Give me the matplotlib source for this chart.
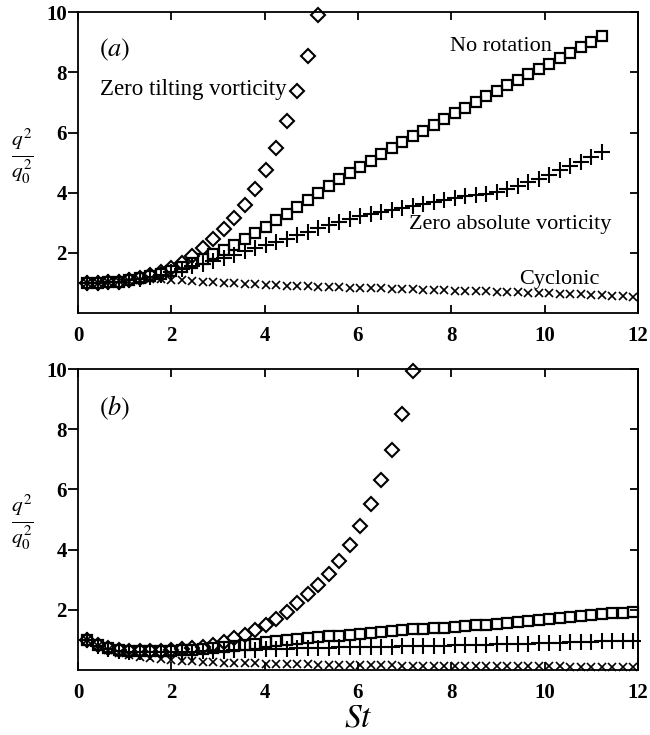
import matplotlib
matplotlib.use("Agg")
import matplotlib.pyplot as plt

plt.rcParams['font.family'] = ['Liberation Serif', 'DejaVu Serif']
plt.rcParams['mathtext.fontset'] = 'stix'

# common time grid St (sampling of the integration output)
st = [0.2, 0.425, 0.65, 0.875, 1.1, 1.325, 1.55, 1.775, 2.0, 2.225, 2.45, 2.675,
      2.9, 3.125, 3.35, 3.575, 3.8, 4.025, 4.25, 4.475, 4.7, 4.925, 5.15, 5.375,
      5.6, 5.825, 6.05, 6.275, 6.5, 6.725, 6.95, 7.175, 7.4, 7.625, 7.85, 8.075,
      8.3, 8.525, 8.75, 8.975, 9.2, 9.425, 9.65, 9.875, 10.1, 10.325, 10.55,
      10.775, 11.0, 11.225, 11.45, 11.675, 11.9]

# panel (a)
tilt_a = [1.0, 1.0, 1.02, 1.05, 1.1, 1.17, 1.25, 1.36, 1.5, 1.68, 1.9, 2.15,
          2.45, 2.78, 3.15, 3.58, 4.12, 4.75, 5.5, 6.37, 7.39, 8.55, 9.92]
norot_a = [1.0, 1.0, 1.02, 1.05, 1.1, 1.15, 1.22, 1.3, 1.4, 1.52, 1.65, 1.8,
           1.95, 2.1, 2.27, 2.45, 2.65, 2.86, 3.08, 3.3, 3.53, 3.76, 4.0, 4.22,
           4.44, 4.65, 4.86, 5.06, 5.27, 5.47, 5.67, 5.87, 6.06, 6.26, 6.45,
           6.64, 6.83, 7.02, 7.2, 7.39, 7.57, 7.75, 7.93, 8.11, 8.29, 8.47,
           8.65, 8.83, 9.01, 9.2]
zabs_a = [1.0, 1.0, 1.02, 1.05, 1.09, 1.14, 1.2, 1.27, 1.36, 1.46, 1.56, 1.64,
          1.72, 1.83, 1.93, 2.05, 2.17, 2.27, 2.37, 2.47, 2.58, 2.7, 2.82, 2.93,
          3.04, 3.13, 3.21, 3.29, 3.37, 3.44, 3.5, 3.57, 3.63, 3.7, 3.77, 3.83,
          3.88, 3.93, 3.97, 4.02, 4.12, 4.23, 4.34, 4.46, 4.59, 4.74, 4.88,
          5.03, 5.2, 5.36]
cyc_a = [1.0, 1.01, 1.03, 1.06, 1.08, 1.1, 1.12, 1.12, 1.11, 1.09, 1.07, 1.05,
         1.03, 1.01, 0.99, 0.97, 0.96, 0.94, 0.93, 0.91, 0.9, 0.89, 0.88, 0.87,
         0.86, 0.85, 0.84, 0.83, 0.82, 0.81, 0.8, 0.79, 0.78, 0.77, 0.76, 0.75,
         0.74, 0.73, 0.72, 0.71, 0.7, 0.69, 0.68, 0.67, 0.66, 0.65, 0.64, 0.62,
         0.61, 0.6, 0.58, 0.57, 0.55]

# panel (b)
tilt_b = [1.0, 0.82, 0.72, 0.67, 0.64, 0.63, 0.63, 0.64, 0.66, 0.69, 0.73,
          0.77, 0.83, 0.93, 1.05, 1.18, 1.32, 1.5, 1.7, 1.94, 2.22, 2.52, 2.83,
          3.18, 3.62, 4.15, 4.8, 5.5, 6.3, 7.3, 8.5, 9.95]
norot_b = [1.0, 0.82, 0.72, 0.66, 0.63, 0.62, 0.62, 0.63, 0.64, 0.66, 0.68,
           0.71, 0.74, 0.77, 0.8, 0.84, 0.88, 0.93, 0.97, 1.01, 1.04, 1.07, 1.1,
           1.12, 1.14, 1.17, 1.2, 1.23, 1.26, 1.29, 1.32, 1.35, 1.37, 1.39, 1.41,
           1.43, 1.46, 1.49, 1.51, 1.54, 1.57, 1.6, 1.63, 1.66, 1.69, 1.72, 1.76,
           1.79, 1.82, 1.85, 1.88, 1.91, 1.94]
zabs_b = [1.0, 0.8, 0.7, 0.64, 0.61, 0.6, 0.59, 0.59, 0.6, 0.6, 0.61, 0.62,
          0.63, 0.64, 0.66, 0.67, 0.68, 0.69, 0.7, 0.71, 0.72, 0.72, 0.73, 0.74,
          0.75, 0.75, 0.76, 0.77, 0.77, 0.78, 0.79, 0.79, 0.8, 0.8, 0.81, 0.82,
          0.82, 0.83, 0.84, 0.85, 0.86, 0.87, 0.88, 0.89, 0.9, 0.91, 0.92, 0.93,
          0.94, 0.95, 0.96, 0.97, 0.98]
cyc_b = [1.0, 0.8, 0.66, 0.56, 0.49, 0.44, 0.4, 0.37, 0.34, 0.31, 0.29, 0.27,
         0.26, 0.25, 0.24, 0.23, 0.22, 0.21, 0.2, 0.2, 0.19, 0.19, 0.18, 0.18,
         0.17, 0.17, 0.17, 0.16, 0.16, 0.16, 0.15, 0.15, 0.15, 0.14, 0.14, 0.14,
         0.14, 0.13, 0.13, 0.13, 0.13, 0.12, 0.12, 0.12, 0.12, 0.12, 0.11, 0.11,
         0.11, 0.11, 0.1, 0.1, 0.1]

xticks = [0, 2, 4, 6, 8, 10, 12]
yticks = [2, 4, 6, 8, 10]

fig = plt.figure(figsize=(6.5, 7.35), dpi=100)
ax_a = fig.add_axes([0.12, 0.574, 0.8615, 0.4095])
ax_b = fig.add_axes([0.12, 0.0884, 0.8615, 0.4095])


def draw(ax, tilt, norot, zabs, cyc, ylab_y):
    kw = dict(linestyle='none', color='k', clip_on=False)
    ax.plot(st[:len(cyc)], cyc, marker='x', markersize=5.2, mew=1.2, **kw)
    ax.plot(st[:len(zabs)], zabs, marker='+', markersize=11, mew=1.5, **kw)
    ax.plot(st[:len(norot)], norot, marker='s', markersize=7.5, mew=1.6,
            mfc='none', **kw)
    ax.plot(st[:len(tilt)], tilt, marker='D', markersize=7, mew=1.5,
            mfc='none', **kw)

    ax.set_xlim(0, 12)
    ax.set_ylim(0, 10)
    ax.set_xticks(xticks)
    ax.set_yticks(yticks)
    for s in ax.spines.values():
        s.set_linewidth(1.3)
    ax.tick_params(axis='x', direction='in', top=True, length=6, width=1.3,
                   pad=9, labelsize=15)
    ax.tick_params(axis='y', direction='out', length=7, width=1.3, pad=1,
                   labelsize=15)
    for lab in ax.get_xticklabels() + ax.get_yticklabels():
        lab.set_fontweight('bold')
    sec = ax.secondary_yaxis('right')
    sec.set_yticks(yticks)
    sec.tick_params(direction='in', length=6, width=1.3, labelright=False)
    sec.spines['right'].set_linewidth(1.3)

    ax.text(-0.1, ylab_y, r'$\boldsymbol{\frac{q^2}{q_0^2}}$',
            transform=ax.transAxes, fontsize=22, ha='center', va='center')


draw(ax_a, tilt_a, norot_a, zabs_a, cyc_a, 0.52)
draw(ax_b, tilt_b, norot_b, zabs_b, cyc_b, 0.49)

ax_a.text(0.45, 8.74, r'$(a)$', fontsize=19, va='center')
ax_b.text(0.45, 8.7, r'$(b)$', fontsize=19, va='center')

ax_a.text(10.15, 8.87, 'No rotation', fontsize=16, ha='right', va='center')
ax_a.text(0.47, 7.42, 'Zero tilting vorticity', fontsize=16.5, va='center')
ax_a.text(7.1, 2.95, 'Zero absolute vorticity', fontsize=16, va='center')
ax_a.text(9.45, 1.13, 'Cyclonic', fontsize=16, va='center')

ax_b.set_xlabel(r'$St$', fontsize=24, labelpad=0)

fig.savefig('out.png', dpi=100)
